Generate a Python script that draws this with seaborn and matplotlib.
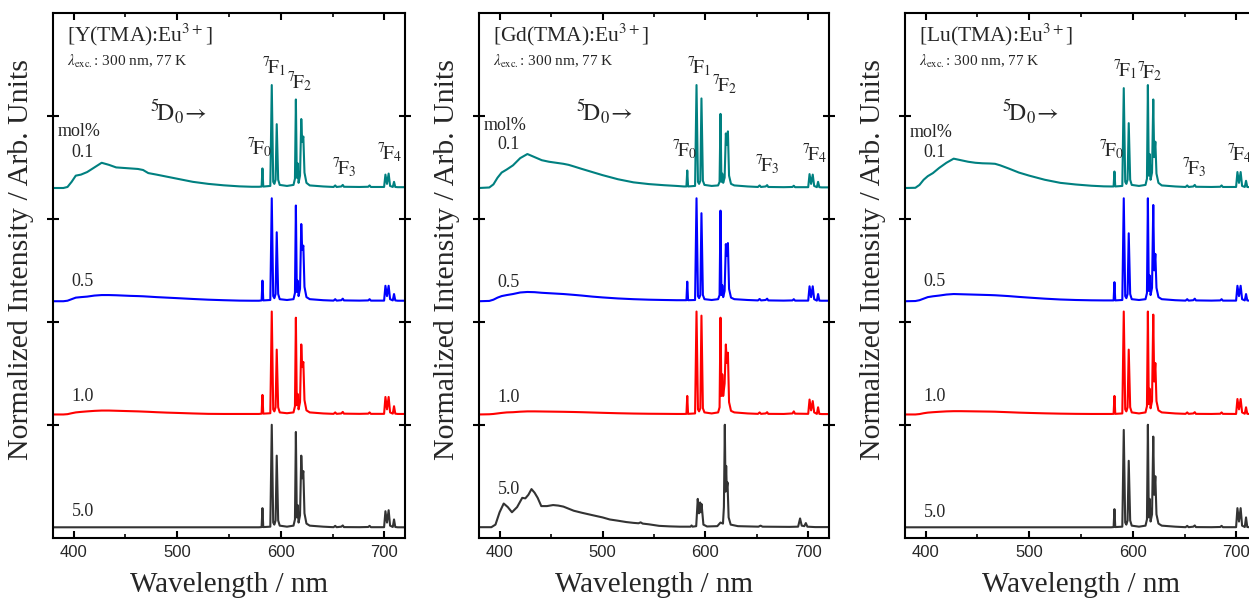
import matplotlib
matplotlib.use('Agg')
import matplotlib.pyplot as plt
from matplotlib.ticker import MultipleLocator
import numpy as np
import pandas as pd
import seaborn as sns

# wavelength grids (nm): broad ligand band and Eu3+ line region
wl_band = [380, 390, 394, 398, 402, 407, 413, 420, 427, 434, 441, 448, 455, 462, 467, 472, 480, 490, 500, 515, 530, 545, 560, 572]
wl_lines = [579, 581.5, 582.3, 583.1, 589.9, 591.3, 592.7, 593.8, 595.0, 596.1, 597.5, 599, 606, 612.3, 613.7,
            614.6, 615.5, 616.3, 617.2, 618.6, 619.8, 620.7, 621.8, 622.9, 624.8, 628, 641, 651, 652.6, 653.9,
            658.5, 659.9, 661, 676, 684.5, 685.8, 687, 699.8, 701.1, 702.6, 704.2, 705.6, 708.2, 709.4, 710.6, 713, 720]

# [Y(TMA):Eu3+]
Y_01_band = [0.0, 0.0, 0.01, 0.06, 0.12, 0.13, 0.155, 0.2, 0.245, 0.225, 0.2, 0.195, 0.19, 0.185, 0.175, 0.145, 0.13, 0.11, 0.09, 0.06, 0.04, 0.026, 0.016, 0.012]
Y_05_band = [0.0, 0.0, 0.005, 0.02, 0.035, 0.04, 0.045, 0.055, 0.06, 0.06, 0.058, 0.055, 0.052, 0.05, 0.048, 0.045, 0.04, 0.035, 0.03, 0.022, 0.015, 0.01, 0.006, 0.005]
Y_10_band = [0.0, 0.0, 0.003, 0.012, 0.02, 0.025, 0.03, 0.035, 0.038, 0.038, 0.036, 0.034, 0.032, 0.03, 0.028, 0.026, 0.022, 0.018, 0.015, 0.01, 0.006, 0.005, 0.005, 0.005]
Y_50_band = [0.004] * 24
Y_01_lines = [0.012, 0.014, 0.19, 0.014, 0.02, 1.0, 0.06, 0.04, 0.08, 0.62, 0.08, 0.03, 0.02, 0.03, 0.09, 0.86, 0.1, 0.24, 0.05, 0.12, 0.67, 0.45, 0.5, 0.15, 0.05, 0.025, 0.015, 0.01, 0.025, 0.01, 0.015, 0.03, 0.012, 0.01, 0.012, 0.025, 0.01, 0.01, 0.13, 0.04, 0.14, 0.02, 0.01, 0.06, 0.01, 0.008, 0.008]
Y_05_lines = [0.005, 0.008, 0.2, 0.008, 0.012, 1.0, 0.05, 0.03, 0.07, 0.67, 0.07, 0.02, 0.012, 0.02, 0.08, 0.93, 0.09, 0.2, 0.05, 0.12, 0.75, 0.5, 0.54, 0.14, 0.04, 0.02, 0.01, 0.006, 0.02, 0.006, 0.01, 0.025, 0.008, 0.006, 0.008, 0.02, 0.006, 0.006, 0.15, 0.05, 0.15, 0.02, 0.008, 0.07, 0.008, 0.005, 0.005]
Y_10_lines = [0.005, 0.008, 0.19, 0.008, 0.012, 1.0, 0.05, 0.03, 0.07, 0.63, 0.07, 0.02, 0.012, 0.02, 0.08, 0.94, 0.09, 0.2, 0.05, 0.12, 0.68, 0.46, 0.51, 0.14, 0.04, 0.02, 0.01, 0.006, 0.02, 0.006, 0.01, 0.025, 0.008, 0.006, 0.008, 0.02, 0.006, 0.006, 0.17, 0.05, 0.17, 0.02, 0.008, 0.08, 0.008, 0.005, 0.005]
Y_50_lines = [0.004, 0.006, 0.19, 0.006, 0.01, 1.0, 0.05, 0.03, 0.07, 0.7, 0.07, 0.02, 0.01, 0.02, 0.08, 0.93, 0.1, 0.22, 0.05, 0.12, 0.7, 0.48, 0.55, 0.14, 0.04, 0.02, 0.01, 0.005, 0.018, 0.005, 0.01, 0.022, 0.006, 0.005, 0.007, 0.018, 0.005, 0.005, 0.16, 0.05, 0.17, 0.02, 0.007, 0.08, 0.007, 0.004, 0.004]

# [Gd(TMA):Eu3+]
Gd_01_band = [0.0, 0.005, 0.035, 0.1, 0.15, 0.18, 0.22, 0.29, 0.33, 0.3, 0.27, 0.255, 0.245, 0.235, 0.225, 0.21, 0.185, 0.155, 0.125, 0.085, 0.055, 0.038, 0.027, 0.02]
Gd_05_band = [0.0, 0.003, 0.015, 0.035, 0.05, 0.06, 0.07, 0.085, 0.09, 0.088, 0.082, 0.078, 0.074, 0.07, 0.066, 0.062, 0.055, 0.045, 0.037, 0.027, 0.02, 0.015, 0.012, 0.01]
Gd_10_band = [0.0, 0.002, 0.005, 0.01, 0.015, 0.02, 0.022, 0.027, 0.03, 0.03, 0.029, 0.028, 0.027, 0.026, 0.025, 0.024, 0.022, 0.019, 0.016, 0.012, 0.009, 0.007, 0.006, 0.005]
Gd_01_lines = [0.015, 0.015, 0.17, 0.015, 0.02, 1.0, 0.06, 0.04, 0.07, 0.87, 0.07, 0.03, 0.02, 0.025, 0.06, 0.72, 0.06, 0.14, 0.05, 0.1, 0.53, 0.42, 0.55, 0.12, 0.04, 0.025, 0.015, 0.01, 0.025, 0.01, 0.015, 0.028, 0.01, 0.008, 0.01, 0.022, 0.008, 0.008, 0.135, 0.04, 0.13, 0.02, 0.008, 0.06, 0.008, 0.006, 0.006]
Gd_05_lines = [0.01, 0.01, 0.19, 0.01, 0.012, 1.0, 0.05, 0.03, 0.06, 0.855, 0.06, 0.02, 0.012, 0.02, 0.06, 0.88, 0.06, 0.155, 0.04, 0.1, 0.555, 0.44, 0.565, 0.12, 0.035, 0.02, 0.012, 0.008, 0.022, 0.008, 0.012, 0.025, 0.008, 0.006, 0.008, 0.02, 0.006, 0.006, 0.145, 0.04, 0.145, 0.02, 0.006, 0.07, 0.006, 0.005, 0.005]
Gd_10_lines = [0.005, 0.006, 0.18, 0.006, 0.01, 1.0, 0.05, 0.03, 0.06, 0.96, 0.06, 0.02, 0.01, 0.02, 0.07, 0.94, 0.18, 0.39, 0.18, 0.3, 0.68, 0.5, 0.6, 0.12, 0.035, 0.02, 0.01, 0.006, 0.02, 0.006, 0.01, 0.022, 0.006, 0.005, 0.01, 0.03, 0.008, 0.006, 0.145, 0.04, 0.13, 0.02, 0.006, 0.07, 0.006, 0.004, 0.004]
# 5.0 mol% Gd sample has its own spectrum shape
wl_gd50 = [380, 392, 396, 400, 404, 408, 412, 417, 422, 425, 428, 431, 434, 437, 440.5, 446, 452, 457, 462, 467, 472, 480,
           491, 500, 507, 515, 523, 530, 535, 537, 539, 545, 555, 565, 575, 585.5, 586.5, 587.5, 591, 592.5, 593.7, 594.8, 595.5,
           596.2, 598, 601.5, 611.5, 614.6, 617, 617.9, 618.8, 619.5, 620.1, 620.7, 621.4, 622.5, 624.5, 631.5, 651.5, 653.5, 655.5,
           681.5, 690, 691.9, 693.5, 696, 697.5, 699, 706.5, 720]
Gd_50 = [0.005, 0.005, 0.03, 0.15, 0.235, 0.2, 0.15, 0.2, 0.29, 0.285, 0.32, 0.375, 0.34, 0.29, 0.21, 0.21, 0.22, 0.215, 0.205, 0.185, 0.165, 0.145,
         0.12, 0.1, 0.08, 0.068, 0.055, 0.047, 0.043, 0.052, 0.04, 0.033, 0.018, 0.013, 0.01, 0.01, 0.022, 0.01, 0.015, 0.28, 0.14, 0.245, 0.15,
         0.23, 0.03, 0.012, 0.015, 0.05, 0.04, 0.2, 1.0, 0.35, 0.6, 0.38, 0.44, 0.1, 0.03, 0.015, 0.01, 0.02, 0.01,
         0.008, 0.01, 0.09, 0.02, 0.015, 0.045, 0.01, 0.006, 0.006]

# [Lu(TMA):Eu3+]
Lu_01_band = [0.0, 0.002, 0.03, 0.08, 0.115, 0.145, 0.195, 0.245, 0.285, 0.27, 0.255, 0.245, 0.24, 0.238, 0.235, 0.22, 0.19, 0.15, 0.12, 0.08, 0.05, 0.034, 0.022, 0.016]
Lu_05_band = [0.0, 0.002, 0.01, 0.025, 0.04, 0.048, 0.055, 0.065, 0.07, 0.068, 0.066, 0.064, 0.062, 0.06, 0.058, 0.055, 0.05, 0.042, 0.035, 0.025, 0.017, 0.012, 0.009, 0.008]
Lu_10_band = [0.0, 0.0, 0.004, 0.012, 0.018, 0.022, 0.026, 0.03, 0.032, 0.032, 0.031, 0.03, 0.029, 0.028, 0.027, 0.025, 0.022, 0.018, 0.015, 0.011, 0.008, 0.006, 0.005, 0.005]
Lu_50_band = [0.004] * 24
Lu_01_lines = [0.015, 0.015, 0.16, 0.015, 0.02, 0.97, 0.06, 0.04, 0.08, 0.63, 0.08, 0.03, 0.02, 0.03, 0.09, 1.0, 0.12, 0.33, 0.08, 0.15, 0.86, 0.3, 0.45, 0.14, 0.05, 0.025, 0.015, 0.01, 0.025, 0.01, 0.015, 0.03, 0.012, 0.01, 0.012, 0.025, 0.01, 0.01, 0.155, 0.05, 0.155, 0.02, 0.01, 0.07, 0.01, 0.008, 0.008]
Lu_05_lines = [0.008, 0.008, 0.185, 0.008, 0.012, 1.0, 0.05, 0.03, 0.07, 0.66, 0.07, 0.02, 0.012, 0.02, 0.08, 1.0, 0.1, 0.25, 0.06, 0.13, 0.935, 0.3, 0.46, 0.13, 0.04, 0.02, 0.01, 0.006, 0.02, 0.006, 0.01, 0.025, 0.008, 0.006, 0.008, 0.02, 0.006, 0.006, 0.15, 0.05, 0.15, 0.02, 0.008, 0.07, 0.008, 0.005, 0.005]
Lu_10_lines = [0.005, 0.006, 0.18, 0.006, 0.01, 1.0, 0.05, 0.03, 0.07, 0.63, 0.07, 0.02, 0.01, 0.02, 0.08, 1.0, 0.1, 0.25, 0.06, 0.13, 0.97, 0.32, 0.5, 0.13, 0.04, 0.02, 0.01, 0.006, 0.02, 0.006, 0.01, 0.022, 0.006, 0.005, 0.007, 0.02, 0.006, 0.005, 0.15, 0.05, 0.15, 0.02, 0.007, 0.07, 0.007, 0.004, 0.004]
Lu_50_lines = [0.004, 0.006, 0.18, 0.006, 0.01, 0.95, 0.05, 0.03, 0.07, 0.65, 0.07, 0.02, 0.01, 0.02, 0.08, 1.0, 0.1, 0.28, 0.06, 0.13, 0.885, 0.32, 0.5, 0.13, 0.04, 0.02, 0.01, 0.005, 0.018, 0.005, 0.01, 0.022, 0.006, 0.005, 0.007, 0.018, 0.005, 0.005, 0.19, 0.06, 0.19, 0.02, 0.007, 0.1, 0.007, 0.004, 0.004]

concentrations = ['0.1', '0.5', '1.0', '5.0']
offsets = [3.3, 2.2, 1.1, 0.0]
colors = ['#008080', '#0000ff', '#ff0000', '#333333']
hosts = ['Y', 'Gd', 'Lu']


def joined(band, lines):
    return wl_band + wl_lines, band + lines


spectra = {
    'Y': [joined(Y_01_band, Y_01_lines), joined(Y_05_band, Y_05_lines),
          joined(Y_10_band, Y_10_lines), joined(Y_50_band, Y_50_lines)],
    'Gd': [joined(Gd_01_band, Gd_01_lines), joined(Gd_05_band, Gd_05_lines),
           joined(Gd_10_band, Gd_10_lines), (wl_gd50, Gd_50)],
    'Lu': [joined(Lu_01_band, Lu_01_lines), joined(Lu_05_band, Lu_05_lines),
           joined(Lu_10_band, Lu_10_lines), joined(Lu_50_band, Lu_50_lines)],
}

sns.set_theme(style='ticks')
plt.rcParams['font.family'] = ['Liberation Serif', 'DejaVu Serif']
plt.rcParams['mathtext.fontset'] = 'stix'

fig = plt.figure(figsize=(12.49, 6.03), dpi=100)
lefts = [53 / 1249, 479 / 1249, 905 / 1249]
widths = [352 / 1249, 350 / 1249, 352 / 1249]

# label positions (x in nm, y in data units) for each panel
F_pos = {
    'Y': [(567, 3.69), (582, 4.48), (606, 4.33), (649.5, 3.5), (693, 3.64)],
    'Gd': [(567, 3.67), (582, 4.48), (606, 4.3), (648, 3.53), (693.5, 3.63)],
    'Lu': [(567, 3.67), (580.5, 4.45), (604.5, 4.43), (648, 3.5), (691.5, 3.63)],
}
conc_y = {'Y': [3.64, 2.39, 1.27, 0.155], 'Gd': [3.72, 2.38, 1.26, 0.37], 'Lu': [3.64, 2.39, 1.27, 0.15]}
mol_y = {'Y': 3.85, 'Gd': 3.91, 'Lu': 3.84}

for k, host in enumerate(hosts):
    ax = fig.add_axes([lefts[k], 65 / 603, widths[k], 525 / 603])
    for (wl, inten), off, col in zip(spectra[host], offsets, colors):
        df = pd.DataFrame({'wl': wl, 'I': np.array(inten) + off})
        sns.lineplot(data=df, x='wl', y='I', ax=ax, color=col, lw=1.5, estimator=None, sort=False)

    ax.set_xlim(380, 720)
    ax.set_ylim(-0.1, 5.0)
    ax.xaxis.set_major_locator(MultipleLocator(100))
    ax.xaxis.set_minor_locator(MultipleLocator(50))
    ax.set_yticks([1, 2, 3, 4])
    ax.set_yticklabels([])
    ax.tick_params(axis='x', which='major', direction='in', length=5, width=1.5, top=True,
                   labelsize=12, pad=5, color='black')
    ax.tick_params(axis='y', which='major', direction='inout', length=8, width=1.5, right=True, color='black')
    ax.tick_params(which='minor', direction='in', length=3, width=1.2, top=True, right=True, color='black')
    for s in ax.spines.values():
        s.set_linewidth(1.5)
        s.set_color('black')
    for lab in ax.get_xticklabels():
        lab.set_fontfamily('Liberation Sans')
    ax.set_xlabel('Wavelength / nm', fontsize=21, labelpad=9)
    ax.set_ylabel('Normalized Intensity / Arb. Units', fontsize=21.5)
    ax.yaxis.set_label_coords(-0.053, 0.53)

    ax.text(393.5, 4.79, '[%s(TMA):Eu$^{3+}$]' % host, fontsize=15.5, va='center')
    ax.text(393.5, 4.53, r'$\lambda_{\rm exc.}$: 300 nm, 77 K', fontsize=11, va='center')
    ax.text(474, 4.03, r'$^5\!\mathrm{D}_0\!\rightarrow$', fontsize=17, va='center')
    ax.text(384.5, mol_y[host], 'mol%', fontsize=13, va='center')
    for c, yy in zip(concentrations, conc_y[host]):
        ax.text(398, yy, c, fontsize=13, va='center')
    for j, (fx, fy) in enumerate(F_pos[host]):
        ax.text(fx, fy, r'$^7\!\mathrm{F}_{%d}$' % j, fontsize=14, va='center')

fig.savefig('out.png', dpi=100)
